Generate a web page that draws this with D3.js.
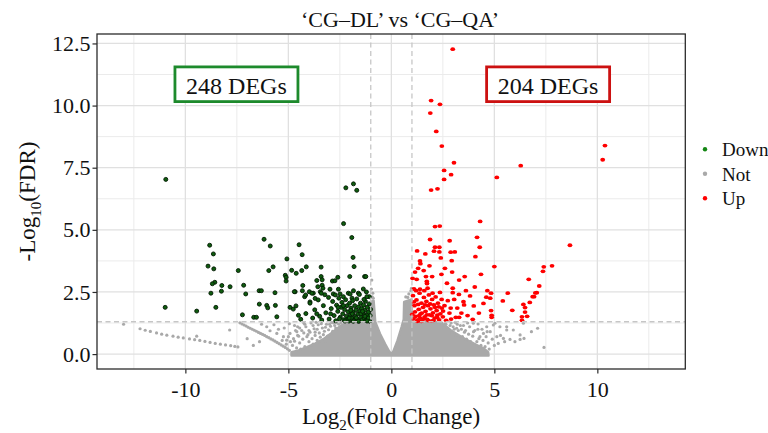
<!DOCTYPE html>
<html>
<head>
<meta charset="utf-8">
<script src="https://cdn.jsdelivr.net/npm/d3@7"></script>
<style>
  body { margin: 0; background: #ffffff; }
  text { font-family: "Liberation Serif", "Times New Roman", serif; fill: #111; }
</style>
</head>
<body>
<svg id="chart" width="768" height="433"></svg>
<script>
// ---- axis ticks and thresholds ----
const xTicks = [-10, -5, 0, 5, 10];
const yTicks = [0, 2.5, 5, 7.5, 10, 12.5];
const xMinor = [-12.5, -7.5, -2.5, 2.5, 7.5, 12.5];
const yMinor = [1.25, 3.75, 6.25, 8.75, 11.25];
const fcCutoffs = [-1, 1];            // |log2 FC| = 1
const fdrCutoff = [1.301];            // -log10(0.05)
const groups = ["Down", "Not", "Up"];
const degLabels = ["248 DEGs", "204 DEGs"];
const degAnchors = [[-7.52, 10.86], [7.61, 10.86]];

// ---- significantly down-regulated genes [log2FC, -log10 FDR] ----
const downPoints = [
  [-10.95,7.03],[-10.98,1.88],[-9.45,1.73],
  [-8.82,4.38],[-8.64,4.03],[-8.90,3.54],[-8.62,3.43],[-8.57,2.89],[-8.69,2.83],[-8.23,2.76],[-8.25,2.53],[-8.76,2.45],[-7.83,2.71],[-8.52,1.88],
  [-7.43,3.36],[-7.17,2.77],[-7.07,2.42],[-7.23,1.58],[-6.68,1.48],[-6.55,1.48],
  [-6.42,2.55],[-6.31,2.55],[-6.18,4.62],[-5.88,4.35],[-5.74,3.51],[-5.95,3.36],[-6.41,2.01],[-6.05,1.96],[-6.00,1.86],[-5.63,1.96],[-5.65,2.47],[-5.56,1.50],
  [-5.07,3.83],[-4.84,3.37],[-4.62,3.25],[-4.48,4.40],[-4.33,4.00],[-4.13,3.51],[-5.15,3.17],[-5.11,3.09],[-5.11,2.94],[-4.67,2.51],[-4.92,1.88],[-4.76,1.81],[-4.63,1.94],[-4.51,1.56],[-4.35,3.36],[-4.30,2.76],
  [-2.21,6.69],[-1.84,6.85],[-1.68,6.59],[-2.32,5.25],[-1.92,4.69],[-1.86,3.89],[-1.81,3.52],
  [-3.41,3.50],[-3.41,3.12],[-3.62,2.96],[-3.36,2.99],[-3.57,2.71],[-3.36,2.77],[-2.86,2.94],[-2.74,2.95],[-2.60,3.09],[-2.02,3.12],[-1.30,3.12],[-1.24,3.12],
  [-4.71,2.51],[-4.21,2.31],[-3.98,2.51],[-3.79,2.45],[-3.45,2.51],[-3.32,2.65],[-3.23,2.39],[-2.57,2.61],[-2.33,2.31],[-2.09,2.45],[-1.84,2.55],[-1.91,2.25],[-1.36,2.62],[-1.21,2.50],[-1.07,2.31],
  [-4.32,2.55],[-4.16,2.38],[-3.86,2.45],[-3.95,2.10],[-3.70,2.24],[-3.40,2.45],[-2.98,2.61],[-2.82,2.42],[-2.49,2.42],[-2.00,2.42],[-1.60,2.45],[-1.19,2.31],
  [-3.95,2.05],[-3.72,1.78],[-3.55,2.18],[-3.48,1.52],[-3.30,1.95],[-3.18,1.66],[-3.05,2.28],[-3.02,1.41],[-2.92,1.83],[-2.85,2.12],[-2.78,1.55],[-2.70,1.34],
  [-2.66,1.97],[-2.60,1.72],[-2.55,2.25],[-2.48,1.48],[-2.44,1.88],[-2.40,2.08],[-2.36,1.62],[-2.31,1.38],[-2.27,1.79],[-2.22,2.19],[-2.18,1.52],[-2.15,1.95],
  [-2.10,1.70],[-2.06,1.33],[-2.03,2.05],[-1.99,1.58],[-1.96,1.85],[-1.92,1.44],[-1.88,2.15],[-1.85,1.68],[-1.81,1.36],[-1.78,1.95],[-1.75,1.52],[-1.72,1.78],
  [-1.68,2.22],[-1.65,1.41],[-1.62,1.62],[-1.59,1.90],[-1.56,1.33],[-1.53,1.73],[-1.50,2.05],[-1.47,1.49],[-1.44,1.83],[-1.41,1.38],[-1.38,1.64],[-1.35,1.97],
  [-1.32,1.45],[-1.29,1.76],[-1.26,2.12],[-1.23,1.35],[-1.20,1.58],[-1.17,1.88],[-1.14,1.42],[-1.11,1.69],[-1.08,2.02],[-1.05,1.32],[-1.03,1.55],[-1.01,1.80],
  [-2.95,1.62],[-2.52,1.42],[-2.33,1.95],[-2.12,1.40],[-1.90,1.62],[-1.70,1.46],[-1.48,1.62],[-1.28,1.52],[-1.12,1.45],[-1.60,1.32],[-1.85,1.32],[-2.25,1.33],
  [-1.40,1.72],[-1.97,1.76],[-2.58,1.88],[-3.38,1.37],[-3.82,1.45],[-4.15,1.63],[-4.40,1.40],[-3.62,1.62],[-2.72,2.38],[-2.05,1.45],[-1.55,2.40],[-1.33,2.20],[-1.18,1.33]
];

// ---- significantly up-regulated genes ----
const upPoints = [
  [2.98,12.27],[1.93,10.20],[2.36,10.05],[1.89,9.70],[2.18,8.96],[2.45,8.37],[3.04,7.70],[2.56,7.39],[2.90,7.22],[2.56,7.03],[2.24,6.65],[1.93,6.60],
  [4.31,5.34],[2.12,5.13],[2.35,5.15],[10.37,8.39],[10.26,7.82],[6.28,7.58],[5.12,7.11],[8.67,4.38],
  [4.16,4.70],[4.29,4.30],[4.08,3.92],[2.83,4.56],[1.88,4.61],[2.12,4.30],[2.33,4.30],[2.07,4.14],[2.33,4.11],[2.88,4.10],[3.08,4.11],[1.25,4.15],[1.65,4.03],
  [2.40,3.87],[2.93,3.76],[1.39,3.75],[1.41,3.64],[1.57,3.36],[2.43,3.21],[1.23,3.01],[1.68,3.12],[1.72,2.92],[1.73,2.84],[1.98,3.12],[3.29,2.98],[3.56,3.12],
  [4.35,3.21],[5.00,3.52],[6.67,3.01],[7.36,3.33],[7.40,3.51],[7.80,3.55],[7.18,2.74],[2.98,2.65],[1.10,2.62],[1.39,2.61],
  [6.99,2.46],[6.86,2.31],[6.72,2.08],[5.65,2.45],[5.41,2.14],[5.87,1.76],[6.41,2.00],[6.49,1.87],[6.49,1.69],[6.34,1.50],[6.59,1.52],[6.34,1.36],
  [4.84,2.45],[4.84,1.75],[4.87,1.56],[4.87,1.48],[4.66,2.55],[4.61,2.29],[2.98,2.47],[3.82,2.34],[3.50,2.11],[3.53,1.98],[4.00,1.94],[2.88,1.85],
  [2.45,1.85],[2.51,1.73],[3.29,1.48],[3.13,1.48],[2.90,1.41],[2.23,1.57],[4.47,2.04],[4.80,2.25],[7.06,2.47],[6.93,2.31],
  [1.05,2.35],[1.12,1.95],[1.18,1.52],[1.22,2.18],[1.28,1.38],[1.33,1.80],[1.37,2.45],[1.42,1.62],[1.46,2.05],[1.50,1.34],[1.54,1.88],[1.58,2.28],
  [1.62,1.50],[1.66,1.72],[1.70,2.12],[1.74,1.40],[1.78,1.95],[1.82,2.38],[1.86,1.58],[1.90,1.82],[1.94,1.33],[1.98,2.20],[2.02,1.66],[2.06,1.98],
  [2.10,1.45],[2.15,2.30],[2.20,1.75],[2.26,2.05],[2.32,1.38],[2.38,1.62],[2.44,2.20],[2.50,1.50],[2.58,1.95],[2.66,1.36],[2.74,2.15],[2.82,1.65],
  [1.08,1.42],[1.15,1.70],[1.25,1.32],[1.30,2.00],[1.40,1.45],[1.48,1.65],[1.56,1.42],[1.64,1.98],[1.72,1.58],[1.80,1.35],[1.88,2.02],[1.96,1.55],
  [2.04,1.36],[2.12,1.88],[2.22,1.48],[2.30,1.90],[1.02,1.60],[1.10,2.10],[1.20,2.55],[1.35,1.55],[1.45,1.32],[1.60,2.55],[1.76,2.65],[2.00,2.45],
  [2.36,2.48],[1.03,3.05],[1.15,3.30],[1.30,3.45],[1.85,3.55],[2.60,3.45],[2.70,2.85],[3.05,2.20],[3.20,1.85],[3.40,1.65],[3.70,1.55],[3.95,1.40],
  [3.62,2.55],[2.95,3.30],[4.05,2.70],[4.25,1.65],[3.28,2.40]
];

// ---- non-significant genes: outline of the dense mass ----
const notEnvelope = [
  [-4.85,-0.06],[-4.85,0.08],[-4.50,0.15],[-4.10,0.28],[-3.70,0.42],[-3.30,0.60],[-2.90,0.85],[-2.55,1.08],[-2.30,1.22],
  [-2.10,1.29],[-1.02,1.29],[-1.00,2.10],[-0.86,2.15],[-0.78,1.29],[-0.55,0.82],[-0.30,0.40],
  [-0.10,0.10],[0.00,0.00],[0.10,0.12],[0.30,0.55],[0.50,1.10],[0.60,1.40],[0.62,2.10],[0.98,2.20],[1.00,1.29],[2.30,1.29],
  [2.60,1.15],[2.90,0.95],[3.30,0.75],[3.70,0.55],[4.10,0.38],[4.50,0.22],[4.70,0.08],[4.72,-0.06]
];

// ---- non-significant genes outside the dense mass ----
const notPoints = [
  [-13.0,1.20],[-12.2,1.02],[-11.95,0.96],[-11.7,0.91],[-11.4,0.85],[-11.15,0.80],[-10.9,0.76],[-10.6,0.72],[-10.35,0.68],[-10.1,0.65],
  [-9.8,0.61],[-9.55,0.58],[-9.3,0.55],[-9.05,0.51],[-8.8,0.47],[-8.55,0.43],[-8.3,0.40],[-8.05,0.37],[-7.8,0.34],[-7.6,0.31],[-7.45,0.29],
  [-9.45,0.72],[-7.85,0.97],
  [-7.35,1.26],[-7.25,1.21],[-7.15,1.17],[-7.05,1.13],[-6.95,1.08],[-6.85,1.04],[-6.75,1.00],[-6.65,0.96],[-6.55,0.92],[-6.45,0.87],
  [-6.35,0.83],[-6.25,0.79],[-6.15,0.75],[-6.05,0.70],[-5.95,0.66],[-5.85,0.61],[-5.75,0.57],[-5.65,0.52],[-5.55,0.47],[-5.45,0.42],
  [-5.35,0.37],[-5.25,0.32],[-5.15,0.27],[-5.05,0.21],[-4.95,0.15],
  [-6.05,1.10],[-5.89,0.94],[-5.56,0.83],[-5.24,0.70],[-5.08,0.56],[-5.48,1.00],[-4.92,0.83],[-4.59,0.90],[-6.30,1.20],[-5.70,1.18],
  [-5.20,1.05],[-4.95,1.22],[-4.70,1.15],[-4.45,1.05],[-4.20,1.20],[-4.00,0.95],[-3.80,1.15],[-3.60,1.00],[-3.40,1.22],[-3.20,1.08],
  [-3.00,1.20],[-2.80,1.25],[-4.75,0.62],[-4.50,0.72],[-4.25,0.85],[-4.05,0.78],[-3.70,0.88],[-5.30,0.55],[-5.10,0.40],[-6.70,0.35],
  [-6.40,0.50],[-7.00,0.62],
  [-4.80,0.35],[-4.70,0.52],[-4.60,0.25],[-4.55,0.75],[-4.45,0.45],[-4.35,0.95],[-4.30,0.60],[-4.20,0.30],[-4.15,1.10],[-4.10,0.70],
  [-4.00,0.50],[-3.95,0.88],[-3.90,1.25],[-3.85,0.62],[-3.75,1.02],[-3.70,0.75],[-3.60,0.55],[-3.55,1.18],[-3.50,0.85],[-3.45,0.68],
  [-3.35,1.05],[-3.30,0.78],[-3.25,0.92],[-3.15,1.20],[-3.10,0.72],[-3.05,0.98],[-2.95,1.12],[-2.90,1.28],[-2.85,0.92],[-2.75,1.15],
  [-2.70,1.05],[-2.65,1.26],[-2.55,1.20],[-2.45,1.27],[-4.65,0.95],[-4.25,1.25],[-3.65,1.28],[-4.90,0.50],[-5.00,0.70],[-4.55,1.10],
  [-3.20,0.50],[-3.80,0.40],[-4.40,0.20],
  [-0.95,2.98],[-0.97,2.62],[-0.90,2.45],[-0.93,2.30],[-0.88,2.25],
  [0.95,2.55],[0.85,2.42],[0.98,2.65],[0.70,2.30],[0.80,2.28],
  [2.60,1.22],[2.90,1.25],[3.17,1.04],[3.20,1.20],[3.50,1.15],[3.80,1.10],[3.98,1.24],[4.21,1.21],[4.63,1.10],[5.03,1.24],
  [5.27,1.10],[5.60,0.97],[5.92,0.97],[6.25,0.59],[6.44,0.63],[7.10,1.04],[7.41,0.27],[5.19,0.43],[4.90,0.60],[5.30,0.75],
  [4.80,0.90],[4.40,1.00],[3.60,0.95],[3.99,0.90],[4.47,0.83],[5.12,0.70],[5.44,0.63],[5.76,0.59],[6.25,0.77],[6.41,1.24],
  [4.95,1.17],[5.60,1.10],[4.30,0.70],[4.70,0.45],[5.00,0.35],[5.50,0.50],[6.00,0.50],[6.80,0.90],[3.40,1.00],[3.00,1.10],
  [2.45,1.25],[2.55,1.05],[2.65,1.20],[2.75,0.95],[2.85,1.15],[2.95,0.85],[3.05,1.00],[3.15,0.75],[3.25,0.95],[3.35,1.15],
  [3.45,0.70],[3.55,0.88],[3.65,0.60],[3.75,0.80],[3.85,0.50],[3.95,0.72],[4.05,0.95],[4.15,0.50],[4.25,0.62],[4.35,0.35],
  [4.45,0.55],[4.55,0.30],[4.60,0.70],[4.65,0.90],[3.10,1.28],[3.70,1.25],[4.20,1.00],[4.75,0.20]
];

// ---- layout and styling ----
const W = 768, H = 433;
const panel = { left: 97, right: 685.3, top: 34, bottom: 369 };
const colors = { Down: "#138613", Not: "#a9a9a9", Up: "#ff0000" };
const boxColors = ["#1d8a2c", "#cc1111"];

const svg = d3.select("#chart");
svg.append("rect").attr("width", W).attr("height", H).attr("fill", "#fff");

const x = d3.scaleLinear().domain([-14.29, 14.27]).range([panel.left, panel.right]);
const y = d3.scaleLinear().domain([-0.6, 12.88]).range([panel.bottom, panel.top]);

svg.append("clipPath").attr("id", "panelClip")
  .append("rect")
  .attr("x", panel.left).attr("y", panel.top)
  .attr("width", panel.right - panel.left).attr("height", panel.bottom - panel.top);

// grid
const grid = svg.append("g");
grid.selectAll(".vmin").data(xMinor).join("line")
  .attr("x1", d => x(d)).attr("x2", d => x(d)).attr("y1", panel.top).attr("y2", panel.bottom)
  .attr("stroke", "#ebebeb").attr("stroke-width", 1);
grid.selectAll(".hmin").data(yMinor).join("line")
  .attr("y1", d => y(d)).attr("y2", d => y(d)).attr("x1", panel.left).attr("x2", panel.right)
  .attr("stroke", "#ebebeb").attr("stroke-width", 1);
grid.selectAll(".vmaj").data(xTicks).join("line")
  .attr("x1", d => x(d)).attr("x2", d => x(d)).attr("y1", panel.top).attr("y2", panel.bottom)
  .attr("stroke", "#e0e0e0").attr("stroke-width", 1.3);
grid.selectAll(".hmaj").data(yTicks).join("line")
  .attr("y1", d => y(d)).attr("y2", d => y(d)).attr("x1", panel.left).attr("x2", panel.right)
  .attr("stroke", "#e0e0e0").attr("stroke-width", 1.3);

const plot = svg.append("g").attr("clip-path", "url(#panelClip)");

// dense mass of non-significant genes
const outline = d3.line().x(d => x(d[0])).y(d => y(d[1])).curve(d3.curveLinearClosed);
plot.append("path").datum(notEnvelope)
  .attr("d", outline)
  .attr("fill", colors.Not).attr("stroke", colors.Not).attr("stroke-width", 2.4)
  .attr("stroke-linejoin", "round");

plot.selectAll(".not").data(notPoints).join("circle")
  .attr("cx", d => x(d[0])).attr("cy", d => y(d[1])).attr("r", 1.6)
  .attr("fill", colors.Not);

plot.selectAll(".down").data(downPoints).join("circle")
  .attr("cx", d => x(d[0])).attr("cy", d => y(d[1])).attr("r", 2)
  .attr("fill", "#0e5c0e").attr("stroke", "#031a03").attr("stroke-width", 0.9);

plot.selectAll(".up").data(upPoints).join("ellipse")
  .attr("cx", d => x(d[0])).attr("cy", d => y(d[1])).attr("rx", 2.4).attr("ry", 1.9)
  .attr("fill", colors.Up);

// cut-off lines
plot.selectAll(".vcut").data(fcCutoffs).join("line")
  .attr("x1", d => x(d)).attr("x2", d => x(d)).attr("y1", panel.top).attr("y2", panel.bottom)
  .attr("stroke", "#c6c6c6").attr("stroke-width", 1.3).attr("stroke-dasharray", "5,3.5");
plot.selectAll(".hcut").data(fdrCutoff).join("line")
  .attr("y1", d => y(d)).attr("y2", d => y(d)).attr("x1", panel.left).attr("x2", panel.right)
  .attr("stroke", "#c6c6c6").attr("stroke-width", 1.3).attr("stroke-dasharray", "5,3.5");

// DEG count boxes
const boxes = svg.append("g");
degLabels.forEach((label, i) => {
  const cx = x(degAnchors[i][0]), cy = y(degAnchors[i][1]);
  boxes.append("rect")
    .attr("x", cx - 61.5).attr("y", cy - 17.3).attr("width", 123).attr("height", 34.7)
    .attr("fill", "#fff").attr("stroke", boxColors[i]).attr("stroke-width", 2.8);
  boxes.append("text")
    .attr("x", cx).attr("y", cy + 9.5).attr("text-anchor", "middle")
    .attr("font-size", 24).text(label);
});

// panel border
svg.append("rect")
  .attr("x", panel.left).attr("y", panel.top)
  .attr("width", panel.right - panel.left).attr("height", panel.bottom - panel.top)
  .attr("fill", "none").attr("stroke", "#2b2b2b").attr("stroke-width", 1.3);

// axes
const xAxis = svg.append("g").attr("transform", `translate(0,${panel.bottom})`)
  .call(d3.axisBottom(x).tickValues(xTicks).tickFormat(d => String(d)).tickSize(4.5).tickPadding(8));
const yAxis = svg.append("g").attr("transform", `translate(${panel.left},0)`)
  .call(d3.axisLeft(y).tickValues(yTicks).tickFormat(d3.format(".1f")).tickSize(4.5).tickPadding(2));
[xAxis, yAxis].forEach(g => {
  g.select(".domain").remove();
  g.selectAll(".tick line").attr("stroke", "#2b2b2b").attr("stroke-width", 1.2);
  g.selectAll(".tick text").attr("font-size", 22).attr("fill", "#111")
    .attr("font-family", "'Liberation Serif', 'Times New Roman', serif");
});

// title
svg.append("text").attr("x", 400).attr("y", 27).attr("text-anchor", "middle")
  .attr("font-size", 22).text("\u2018CG\u2013DL\u2019 vs \u2018CG\u2013QA\u2019");

// axis titles
const xt = svg.append("text").attr("x", (panel.left + panel.right) / 2).attr("y", 424)
  .attr("text-anchor", "middle").attr("font-size", 23);
xt.append("tspan").text("Log");
xt.append("tspan").attr("font-size", 15).attr("dy", 6).text("2");
xt.append("tspan").attr("dy", -6).text("(Fold Change)");

const yt = svg.append("text")
  .attr("transform", `translate(35,${(panel.top + panel.bottom) / 2}) rotate(-90)`)
  .attr("text-anchor", "middle").attr("font-size", 23);
yt.append("tspan").text("-Log");
yt.append("tspan").attr("font-size", 15).attr("dy", 6).text("10");
yt.append("tspan").attr("dy", -6).text("(FDR)");

// legend
const legend = svg.append("g");
groups.forEach((g, i) => {
  const ly = 149.3 + i * 24.5;
  legend.append("circle").attr("cx", 705).attr("cy", ly).attr("r", 2.2).attr("fill", colors[g]);
  legend.append("text").attr("x", 722).attr("y", ly + 6.7).attr("font-size", 19).text(g);
});
</script>
</body>
</html>
